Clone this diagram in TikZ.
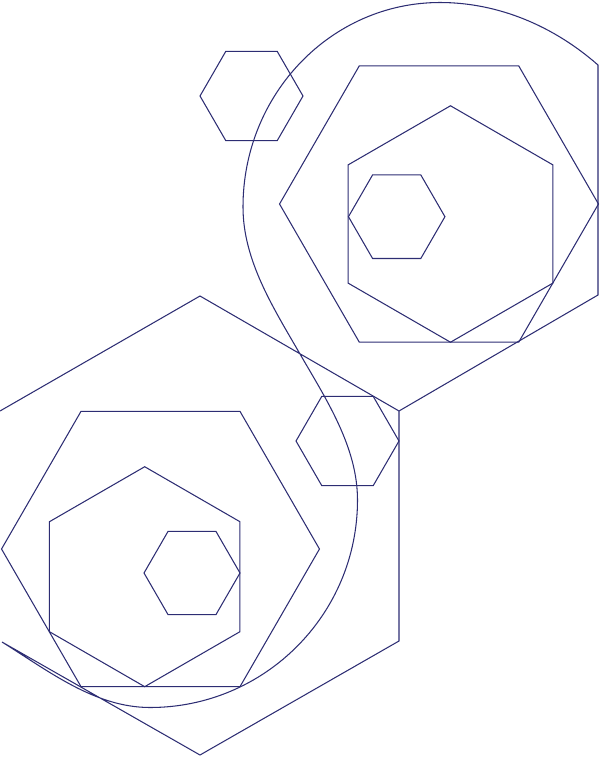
\documentclass[tikz,border=0pt]{standalone}
\usepackage{tikz}
\usetikzlibrary{shapes.geometric}
\definecolor{ink}{RGB}{45,45,115}
\tikzset{%
  ln/.style = {draw=ink,line width=0.6pt,line join=miter},
  fh/.style = {regular polygon,regular polygon sides=6,draw=ink,
        line width=0.6pt,inner sep=0pt,outer sep=0pt},
  ph/.style = {fh,shape border rotate=30}
}

\begin{document}
\begin{tikzpicture}[x=0.02cm,y=-0.02cm]
  \useasboundingbox (0,0) rectangle (600,758);
  \clip (0,0) rectangle (600,758);
  % upper group
  \node[fh,minimum size=2.06cm] (hexa) at (251.5,96) {};
  \node[fh,minimum size=6.38cm] (hexb) at (439,204) {};
  \node[ph,minimum size=4.73cm] (hexc) at (450.5,224) {};
  \node[fh,minimum size=1.93cm] (hexd) at (396.7,216.7) {};
  % lower group
  \node[fh,minimum size=2.06cm] (hexj) at (347.5,441) {};
  \node[fh,minimum size=6.36cm] (hexg) at (160.5,549) {};
  \node[ph,minimum size=4.40cm] (hexh) at (144.7,576.7) {};
  \node[fh,minimum size=1.92cm] (hexi) at (192,573) {};
  % outline
  \coordinate (f1) at (0,411);
  \coordinate (f2) at (200,296);
  \coordinate (f3) at (399,411);
  \coordinate (f4) at (598,295);
  \coordinate (f5) at (598,65);
  \coordinate (f6) at (2,642);
  \coordinate (f7) at (200,755);
  \coordinate (f8) at (399,641);
  % curve
  \coordinate (s1) at (440,2.5);
  \coordinate (s2) at (243,207);
  \coordinate (s3) at (300,354);
  \coordinate (s4) at (357.5,500);
  \coordinate (s5) at (150,707.5);
  \draw[ln] (f1) -- (f2) -- (f3) -- (f4) -- (f5)
    .. controls (554,26.3) and (498.6,2.5) .. (s1)
    .. controls (331.2,2.5) and (243,94) .. (s2)
    .. controls (243,260.5) and (273.3,307.7) .. (s3)
    .. controls (326.5,399.9) and (357.5,447) .. (s4)
    .. controls (357.5,614.6) and (264.6,707.5) .. (s5)
    .. controls (95,707.5) and (48.8,671.2) .. (f6)
    -- (f7) -- (f8) -- (f3);
\end{tikzpicture}
\end{document}
